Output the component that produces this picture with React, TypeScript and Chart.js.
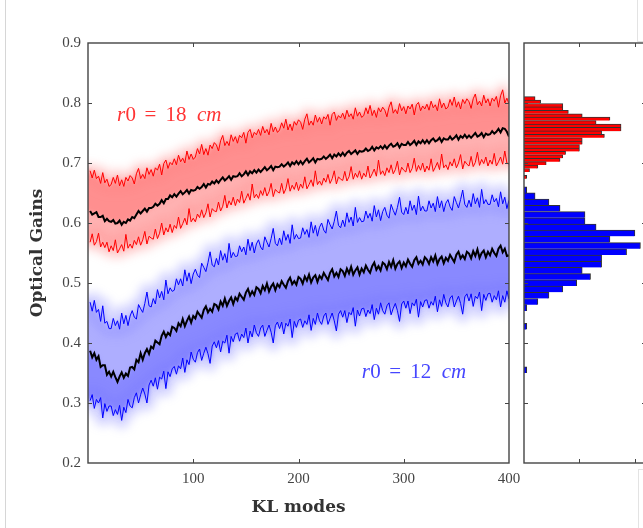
import React, { useEffect, useRef } from 'react';
import { Chart, registerables } from 'chart.js';
Chart.register(...registerables);

// KL mode index (every 2nd mode)
const modes: number[] = Array.from({ length: 200 }, (_, i) => 2 * (i + 1));

// values in thousandths (0.001 units)
const redUpperMilli = [
  687, 675, 688, 674, 678, 666, 684, 667, 673, 661,
  664, 676, 666, 680, 662, 672, 661, 676, 670, 679,
  675, 665, 682, 691, 674, 681, 674, 692, 681, 689,
  678, 692, 688, 698, 680, 699, 705, 691, 701, 697,
  707, 697, 713, 702, 708, 700, 720, 706, 715, 706,
  710, 724, 715, 731, 714, 724, 713, 730, 724, 734,
  730, 720, 737, 746, 729, 736, 729, 747, 736, 744,
  733, 746, 742, 751, 733, 751, 756, 742, 751, 747,
  756, 746, 761, 750, 756, 747, 766, 752, 760, 751,
  755, 767, 758, 773, 755, 765, 754, 769, 763, 772,
  768, 756, 773, 782, 763, 770, 763, 780, 768, 776,
  765, 777, 773, 781, 763, 781, 785, 771, 779, 775,
  783, 773, 788, 777, 782, 773, 792, 778, 785, 776,
  779, 792, 782, 796, 779, 788, 776, 792, 785, 793,
  788, 777, 793, 802, 783, 789, 782, 799, 787, 794,
  782, 795, 790, 798, 780, 797, 801, 787, 795, 790,
  798, 788, 803, 792, 797, 787, 807, 792, 800, 790,
  793, 806, 796, 810, 793, 802, 790, 806, 799, 807,
  802, 791, 807, 815, 797, 803, 795, 813, 800, 807,
  795, 808, 803, 811, 793, 812, 822, 800, 808, 798,
];
const redLowerMilli = [
  568, 582, 563, 569, 583, 560, 568, 559, 568, 552,
  562, 554, 572, 550, 557, 564, 553, 581, 558, 565,
  558, 571, 564, 577, 563, 572, 586, 565, 578, 575,
  573, 590, 574, 583, 600, 580, 592, 585, 598, 584,
  596, 591, 610, 591, 599, 608, 597, 624, 602, 608,
  602, 615, 609, 622, 609, 617, 632, 610, 624, 620,
  619, 635, 620, 628, 646, 625, 637, 630, 643, 629,
  640, 634, 653, 633, 641, 649, 638, 665, 642, 648,
  641, 654, 646, 659, 645, 652, 666, 644, 656, 652,
  650, 666, 649, 657, 674, 653, 663, 656, 668, 654,
  665, 658, 677, 657, 664, 672, 661, 687, 664, 670,
  663, 675, 668, 681, 666, 674, 687, 665, 677, 673,
  671, 686, 670, 677, 694, 673, 683, 676, 687, 673,
  683, 677, 695, 675, 682, 690, 678, 705, 681, 687,
  679, 692, 684, 697, 682, 689, 703, 680, 693, 688,
  685, 700, 684, 691, 708, 686, 696, 688, 700, 685,
  695, 688, 707, 686, 693, 701, 689, 715, 692, 697,
  689, 702, 695, 707, 692, 700, 714, 690, 703, 698,
  695, 711, 694, 701, 718, 696, 706, 699, 710, 695,
  705, 698, 716, 695, 702, 710, 698, 720, 700, 698,
];
const redMeanMilli = [
  620, 614, 616, 618, 610, 610, 612, 603, 607, 603,
  602, 605, 599, 600, 604, 597, 602, 600, 606, 604,
  610, 608, 614, 620, 616, 620, 624, 619, 625, 625,
  627, 632, 629, 632, 638, 633, 640, 640, 646, 643,
  648, 644, 649, 653, 648, 651, 655, 649, 655, 654,
  655, 660, 657, 660, 665, 659, 665, 664, 669, 666,
  671, 667, 672, 676, 671, 674, 678, 672, 678, 677,
  678, 683, 678, 681, 686, 680, 686, 683, 688, 684,
  689, 685, 689, 693, 688, 691, 695, 688, 694, 693,
  694, 698, 694, 697, 701, 695, 701, 698, 703, 698,
  703, 698, 703, 707, 701, 704, 708, 701, 707, 706,
  707, 711, 707, 710, 714, 708, 714, 711, 716, 712,
  717, 712, 717, 720, 715, 718, 721, 715, 720, 719,
  720, 724, 720, 722, 727, 721, 726, 724, 728, 724,
  729, 724, 729, 732, 727, 729, 733, 726, 732, 730,
  730, 735, 730, 733, 737, 730, 736, 733, 738, 733,
  738, 733, 738, 741, 736, 738, 742, 735, 741, 739,
  739, 744, 739, 742, 746, 739, 745, 742, 747, 742,
  746, 742, 746, 750, 744, 746, 750, 743, 749, 747,
  748, 753, 749, 752, 757, 751, 758, 757, 752, 744,
];
const blueUpperMilli = [
  468, 453, 471, 451, 456, 436, 462, 433, 436, 424,
  424, 441, 429, 437, 423, 450, 432, 446, 429, 445,
  454, 443, 440, 464, 457, 451, 466, 485, 462, 460,
  474, 465, 489, 475, 486, 472, 505, 482, 492, 486,
  488, 507, 497, 507, 495, 522, 503, 517, 499, 515,
  523, 513, 509, 533, 526, 519, 534, 552, 530, 527,
  541, 530, 554, 538, 549, 534, 566, 542, 551, 544,
  545, 562, 552, 560, 547, 573, 554, 568, 550, 565,
  572, 560, 555, 577, 568, 560, 574, 591, 566, 562,
  575, 564, 587, 571, 581, 566, 597, 573, 581, 574,
  575, 592, 581, 589, 576, 602, 583, 596, 578, 593,
  600, 588, 583, 606, 597, 590, 603, 620, 596, 592,
  605, 594, 617, 601, 610, 595, 626, 601, 609, 602,
  603, 620, 608, 616, 603, 629, 610, 622, 604, 619,
  626, 613, 608, 631, 621, 613, 626, 643, 618, 614,
  626, 615, 637, 621, 630, 614, 645, 620, 628, 620,
  620, 637, 625, 633, 619, 644, 625, 637, 619, 633,
  639, 627, 621, 644, 634, 625, 639, 655, 631, 626,
  638, 627, 649, 632, 642, 626, 656, 632, 639, 631,
  631, 647, 635, 641, 627, 652, 632, 643, 624, 638,
];
const blueMeanMilli = [
  387, 376, 383, 372, 378, 360, 363, 363, 347, 352,
  344, 352, 343, 335, 344, 351, 342, 349, 345, 359,
  360, 356, 372, 368, 383, 372, 383, 390, 382, 394,
  391, 404, 401, 398, 412, 419, 410, 417, 413, 427,
  425, 420, 433, 428, 440, 428, 437, 444, 434, 445,
  441, 452, 447, 442, 455, 461, 451, 457, 452, 465,
  463, 456, 469, 462, 474, 462, 470, 476, 465, 476,
  471, 482, 477, 472, 484, 490, 479, 486, 480, 493,
  490, 483, 495, 488, 499, 486, 494, 499, 488, 498,
  493, 503, 497, 492, 503, 509, 498, 503, 497, 510,
  507, 499, 511, 504, 514, 501, 509, 513, 502, 512,
  507, 517, 511, 505, 517, 523, 511, 517, 510, 523,
  520, 512, 524, 516, 527, 514, 521, 526, 514, 524,
  518, 529, 522, 517, 528, 534, 522, 528, 521, 534,
  531, 523, 535, 527, 538, 524, 532, 536, 525, 534,
  528, 539, 532, 527, 538, 543, 532, 537, 531, 543,
  539, 532, 543, 536, 546, 532, 540, 544, 533, 542,
  537, 547, 541, 535, 547, 552, 541, 546, 540, 552,
  549, 541, 553, 545, 556, 542, 550, 554, 543, 552,
  546, 557, 550, 545, 557, 562, 551, 557, 545, 546,
];
const blueLowerMilli = [
  304, 314, 291, 306, 300, 309, 275, 299, 286, 295,
  295, 279, 289, 281, 296, 271, 293, 284, 306, 295,
  292, 309, 317, 300, 314, 325, 315, 300, 330, 338,
  328, 342, 323, 343, 340, 353, 324, 352, 344, 357,
  361, 348, 362, 357, 375, 351, 372, 364, 385, 373,
  368, 384, 390, 371, 383, 393, 382, 366, 395, 402,
  392, 404, 385, 403, 400, 413, 383, 411, 402, 415,
  417, 403, 415, 409, 425, 400, 420, 410, 430, 417,
  411, 425, 430, 411, 421, 430, 418, 400, 429, 435,
  424, 435, 415, 433, 428, 440, 409, 436, 426, 438,
  440, 426, 437, 431, 447, 421, 441, 431, 450, 437,
  431, 445, 450, 431, 441, 450, 437, 420, 448, 454,
  443, 454, 434, 451, 447, 459, 428, 455, 445, 457,
  458, 444, 455, 449, 464, 439, 458, 448, 467, 454,
  448, 462, 467, 447, 458, 466, 454, 436, 465, 470,
  458, 470, 449, 467, 462, 473, 443, 469, 460, 471,
  472, 458, 469, 463, 478, 452, 472, 461, 481, 467,
  460, 475, 479, 460, 470, 478, 466, 448, 477, 482,
  470, 482, 461, 478, 474, 485, 454, 481, 471, 482,
  483, 468, 479, 472, 487, 460, 479, 468, 487, 473,
];

// histograms (bin centre -> count)
const redBinCenters = [
  0.8077, 0.8020, 0.7963, 0.7906, 0.7849, 0.7792, 0.7735, 0.7678, 0.7621, 0.7564,
  0.7507, 0.7450, 0.7393, 0.7336, 0.7279, 0.7222, 0.7165, 0.7108, 0.7051, 0.6994,
  0.6937, 0.6880, 0.6766,
];
const redCounts = [4, 6, 14, 14, 16, 21, 31, 26, 35, 35, 28, 29, 21, 21, 20, 20, 15, 14, 13, 8, 5, 2, 1];
const blueBinCenters = [
  0.6553, 0.6450, 0.6346, 0.6243, 0.6139, 0.6036, 0.5932, 0.5829, 0.5725, 0.5622,
  0.5518, 0.5415, 0.5311, 0.5208, 0.5104, 0.5001, 0.4897, 0.4794, 0.4690, 0.4587,
  0.4276, 0.3552,
];
const blueCounts = [1, 4, 9, 13, 22, 22, 26, 40, 31, 42, 37, 28, 28, 21, 24, 19, 14, 9, 5, 1, 1, 1];

const xTicks = [100, 200, 300, 400];
const yTicks = [0.2, 0.3, 0.4, 0.5, 0.6, 0.7, 0.8, 0.9];
const histTicks = [20, 40];

const annotations = [
  { x: 27.6, y: 0.7705, num: '18', color: 'rgb(255,52,52)' },
  { x: 260, y: 0.3422, num: '12', color: 'rgb(70,70,255)' },
];

const AXIS = '#454545';
const TICKFONT = "'Liberation Serif', serif";
const TITLEFONT = "'DejaVu Serif', serif";

const toPts = (arr: number[]) => modes.map((m, i) => ({ x: m, y: arr[i] / 1000 }));

export default function App() {
  const mainRef = useRef<HTMLCanvasElement>(null);
  const histRef = useRef<HTMLCanvasElement>(null);

  useEffect(() => {
    const bands = [
      {
        upper: redUpperMilli, lower: redLowerMilli, sUpper: redUpperMilli, sLower: redMeanMilli,
        halo: 'rgba(255,120,120,0.33)', light: 'rgba(255,150,150,0.55)', strong: 'rgba(255,110,110,0.5)', haloW: 12,
      },
      {
        upper: blueUpperMilli, lower: blueLowerMilli, sUpper: blueMeanMilli, sLower: blueLowerMilli,
        halo: 'rgba(120,120,255,0.3)', light: 'rgba(140,140,255,0.55)', strong: 'rgba(105,105,255,0.55)', haloW: 16,
      },
    ];

    const bandPlugin = {
      id: 'bands',
      beforeDatasetsDraw(chart: any) {
        const { ctx, chartArea: ca, scales } = chart;
        const xs = scales.x, ys = scales.y;
        const path = (up: number[], lo: number[]) => {
          ctx.beginPath();
          ctx.moveTo(ca.left - 30, ys.getPixelForValue(up[0] / 1000));
          for (let i = 0; i < up.length; i++) ctx.lineTo(xs.getPixelForValue(modes[i]), ys.getPixelForValue(up[i] / 1000));
          ctx.lineTo(ca.right + 30, ys.getPixelForValue(up[up.length - 1] / 1000));
          ctx.lineTo(ca.right + 30, ys.getPixelForValue(lo[lo.length - 1] / 1000));
          for (let i = lo.length - 1; i >= 0; i--) ctx.lineTo(xs.getPixelForValue(modes[i]), ys.getPixelForValue(lo[i] / 1000));
          ctx.lineTo(ca.left - 30, ys.getPixelForValue(lo[0] / 1000));
          ctx.closePath();
        };
        ctx.save();
        ctx.beginPath();
        ctx.rect(ca.left, ca.top, ca.right - ca.left, ca.bottom - ca.top);
        ctx.clip();
        for (const b of bands) {
          path(b.upper, b.lower);
          ctx.filter = 'blur(5px)';
          ctx.fillStyle = b.halo;
          ctx.strokeStyle = b.halo;
          ctx.lineWidth = b.haloW;
          ctx.lineJoin = 'round';
          ctx.fill();
          ctx.stroke();
          ctx.filter = 'blur(2px)';
          ctx.fillStyle = b.light;
          ctx.fill();
          path(b.sUpper, b.sLower);
          ctx.fillStyle = b.strong;
          ctx.fill();
        }
        ctx.filter = 'none';
        ctx.restore();
      },
    };

    const boxPlugin = {
      id: 'box',
      afterDraw(chart: any) {
        const { ctx, chartArea: ca, scales } = chart;
        const { left, right, top, bottom } = ca;
        ctx.save();
        ctx.strokeStyle = AXIS;
        ctx.lineWidth = 1;
        ctx.beginPath();
        for (const v of xTicks) {
          const p = Math.round(scales.x.getPixelForValue(v)) + 0.5;
          if (p >= right - 1) continue;
          ctx.moveTo(p, bottom); ctx.lineTo(p, bottom - 4);
          ctx.moveTo(p, top); ctx.lineTo(p, top + 4);
        }
        for (const v of yTicks) {
          const p = Math.round(scales.y.getPixelForValue(v)) + 0.5;
          if (p <= top + 1 || p >= bottom - 1) continue;
          ctx.moveTo(left, p); ctx.lineTo(left + 4, p);
          ctx.moveTo(right, p); ctx.lineTo(right - 4, p);
        }
        ctx.stroke();
        ctx.lineWidth = 1.4;
        ctx.strokeRect(left, top, right - left, bottom - top);
        ctx.restore();
      },
    };

    const annPlugin = {
      id: 'ann',
      afterDatasetsDraw(chart: any) {
        const { ctx, scales } = chart;
        ctx.save();
        ctx.textBaseline = 'alphabetic';
        ctx.textAlign = 'left';
        for (const a of annotations) {
          const px = scales.x.getPixelForValue(a.x);
          const py = scales.y.getPixelForValue(a.y);
          const parts: [string, boolean, number][] = [
            ['r', true, 0], ['0', false, 8.5], ['=', false, 27.5], [a.num, false, 48.5], ['cm', true, 80],
          ];
          ctx.fillStyle = a.color;
          for (const [t, it, dx] of parts) {
            ctx.font = `${it ? 'italic ' : ''}21px ${TICKFONT}`;
            ctx.fillText(t, px + dx, py);
          }
        }
        ctx.restore();
      },
    };

    const line = (data: number[], color: string, width: number) => ({
      data: toPts(data),
      borderColor: color,
      borderWidth: width,
      pointRadius: 0,
      tension: 0,
      fill: false,
    });

    const main = new Chart(mainRef.current as HTMLCanvasElement, {
      type: 'line',
      data: {
        datasets: [
          line(redMeanMilli, '#000000', 2),
          line(blueMeanMilli, '#000000', 2),
          line(redUpperMilli, '#ff0000', 1),
          line(redLowerMilli, '#ff0000', 1),
          line(blueUpperMilli, '#0000ff', 1),
          line(blueLowerMilli, '#0000ff', 1),
        ] as any,
      },
      options: {
        animation: false,
        responsive: false,
        events: [],
        layout: { padding: { top: 43, right: 21, left: 0, bottom: 0 } },
        plugins: { legend: { display: false }, tooltip: { enabled: false } },
        scales: {
          x: {
            type: 'linear',
            min: 0,
            max: 400,
            afterBuildTicks: (s: any) => { s.ticks = xTicks.map((v) => ({ value: v })); },
            afterFit: (s: any) => { s.height = 65; },
            grid: { display: false, drawTicks: false },
            border: { display: false },
            ticks: { font: { family: TICKFONT, size: 15 }, color: '#444', padding: 7, maxRotation: 0, autoSkip: false },
            title: {
              display: true, text: 'KL modes', color: '#333',
              font: { family: TITLEFONT, size: 17, weight: 'bold' }, padding: { top: 0, bottom: 10 },
            },
          },
          y: {
            type: 'linear',
            min: 0.2,
            max: 0.9,
            afterBuildTicks: (s: any) => { s.ticks = yTicks.map((v) => ({ value: v })); },
            afterFit: (s: any) => { s.width = 88; },
            grid: { display: false, drawTicks: false },
            border: { display: false },
            ticks: { font: { family: TICKFONT, size: 15 }, color: '#444', padding: 7, callback: (v: any) => Number(v).toFixed(1) },
            title: {
              display: true, text: 'Optical Gains', color: '#333',
              font: { family: TITLEFONT, size: 17, weight: 'bold' }, padding: { top: 27, bottom: 0 },
            },
          },
        },
      } as any,
      plugins: [bandPlugin, annPlugin, boxPlugin],
    });

    const histBox = {
      id: 'histBox',
      afterDraw(chart: any) {
        const { ctx, chartArea: ca, scales } = chart;
        const { left, right, top, bottom } = ca;
        ctx.save();
        ctx.strokeStyle = AXIS;
        ctx.lineWidth = 1;
        ctx.beginPath();
        for (const v of histTicks) {
          const p = Math.round(scales.x.getPixelForValue(v)) + 0.5;
          ctx.moveTo(p, bottom); ctx.lineTo(p, bottom - 4);
          ctx.moveTo(p, top); ctx.lineTo(p, top + 4);
        }
        for (const v of yTicks) {
          const p = Math.round(scales.y.getPixelForValue(v)) + 0.5;
          if (p <= top + 1 || p >= bottom - 1) continue;
          ctx.moveTo(left, p); ctx.lineTo(left + 4, p);
          ctx.moveTo(right, p); ctx.lineTo(right - 4, p);
        }
        ctx.stroke();
        ctx.lineWidth = 1.4;
        ctx.strokeRect(left, top, right - left, bottom - top);
        ctx.restore();
      },
    };

    const hist = new Chart(histRef.current as HTMLCanvasElement, {
      type: 'bar',
      data: {
        datasets: [
          {
            data: redBinCenters.map((c, i) => ({ y: c, x: redCounts[i] })),
            backgroundColor: '#ff0000',
            borderColor: '#333333',
            borderWidth: { top: 1, right: 1, bottom: 0, left: 0 },
            borderSkipped: false,
            barThickness: 3.42,
          },
          {
            data: blueBinCenters.map((c, i) => ({ y: c, x: blueCounts[i] })),
            backgroundColor: '#0000ff',
            borderColor: '#333333',
            borderWidth: { top: 1, right: 1, bottom: 0, left: 0 },
            borderSkipped: false,
            barThickness: 6.21,
          },
        ] as any,
      },
      options: {
        indexAxis: 'y',
        grouped: false,
        animation: false,
        responsive: false,
        events: [],
        layout: { padding: { top: 43, right: 10, left: 8, bottom: 65 } },
        plugins: { legend: { display: false }, tooltip: { enabled: false } },
        scales: {
          x: { type: 'linear', min: 0, max: 44, display: false, offset: false },
          y: { type: 'linear', min: 0.2, max: 0.9, display: false, offset: false, grid: { offset: false } },
        },
      } as any,
      plugins: [histBox],
    });

    return () => {
      main.destroy();
      hist.destroy();
    };
  }, []);

  return (
    <div style={{ position: 'fixed', left: 0, top: 0, width: 643, height: 528, overflow: 'hidden', background: '#fff' }}>
      <div style={{ position: 'absolute', left: 5, top: 0, width: 1, height: 528, background: '#d6d6d6' }} />
      <canvas ref={mainRef} width={530} height={528} style={{ position: 'absolute', left: 0, top: 0 }} />
      <canvas ref={histRef} width={140} height={528} style={{ position: 'absolute', left: 516, top: 0 }} />
      <div style={{ position: 'absolute', left: 637, top: -1, width: 20, height: 41, border: '1px solid #e3e3e3' }} />
      <div style={{ position: 'absolute', left: 638, top: 469, width: 20, height: 80, border: '1px solid #e3e3e3' }} />
    </div>
  );
}
